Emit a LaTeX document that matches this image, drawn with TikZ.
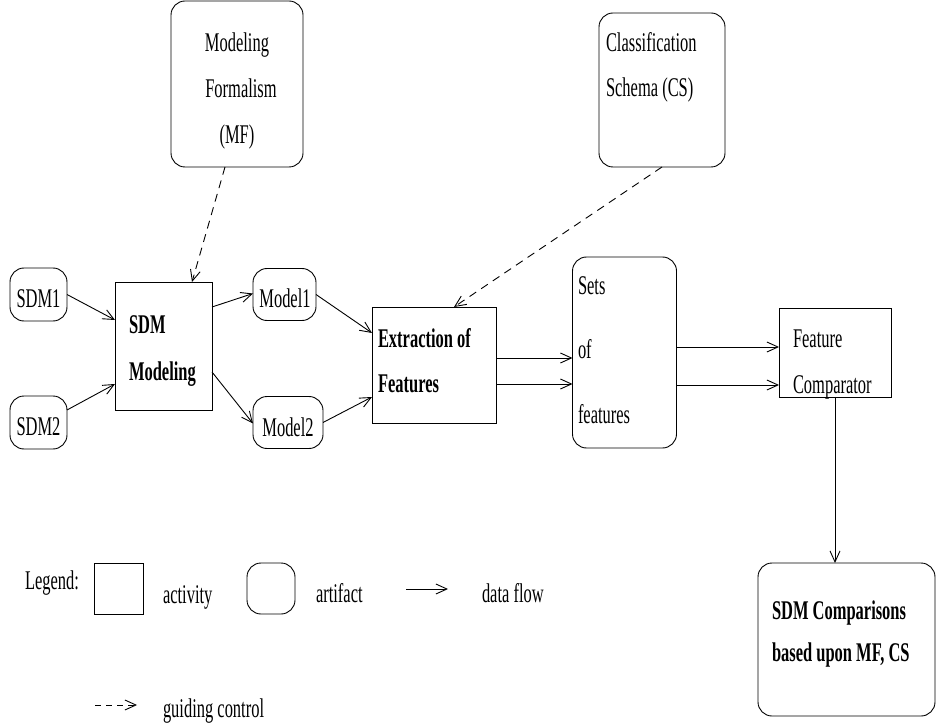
\documentclass[tikz,border=0pt]{standalone}
\usepackage{fontspec}
\setmainfont{Liberation Serif}[FakeStretch=0.61]
\usetikzlibrary{arrows.meta,calc}
\tikzset{
  act/.style={draw, rectangle, inner sep=0pt, outer sep=0pt},
  art/.style={draw, rectangle, rounded corners=14pt, inner sep=0pt, outer sep=0pt},
  lbl/.style={anchor=base west, inner sep=0pt, outer sep=0pt},
  clbl/.style={anchor=base, inner sep=0pt, outer sep=0pt},
  flow/.style={-{Straight Barb[length=11pt,width=10pt]}},
  guide/.style={-{Straight Barb[length=11pt,width=10pt]}, dash pattern=on 8pt off 6pt},
}
\begin{document}
\begin{tikzpicture}[x=1pt, y=-1pt, line width=0.9pt,
  font=\fontsize{27}{32}\selectfont]
\useasboundingbox (0,0) rectangle (937,727);
% boxes
\node[art, minimum width=132pt, minimum height=166pt] (mf) at (237,84) {};
\node[art, minimum width=126pt, minimum height=154pt] (cs) at (662,90) {};
\node[art, minimum width=57pt, minimum height=53pt] (sdm1) at (38.5,294.5) {};
\node[art, minimum width=57pt, minimum height=53pt] (sdm2) at (38.5,422.5) {};
\node[act, minimum width=97pt, minimum height=128pt] (sdmmod) at (163.5,346) {};
\node[art, minimum width=63pt, minimum height=52pt] (model1) at (284.5,294.5) {};
\node[art, minimum width=70pt, minimum height=52pt] (model2) at (288,422.5) {};
\node[act, minimum width=124pt, minimum height=116pt] (extr) at (434,365) {};
\node[art, minimum width=104pt, minimum height=191pt] (sets) at (624.5,352.5) {};
\node[act, minimum width=112pt, minimum height=89pt] (fc) at (835,352.5) {};
\node[art, minimum width=177pt, minimum height=153pt] (comp) at (846.5,639.5) {};
% texts
\node[clbl] (mft1) at (237,52) {Modeling};
\node[clbl] (mft2) at (241,98) {Formalism};
\node[clbl] (mft3) at (237,144) {(MF)};
\node[lbl] (cst1) at (606,52) {Classification};
\node[lbl] (cst2) at (606,97) {Schema (CS)};
\node[clbl] (sdm1t) at (38.5,308) {SDM1};
\node[clbl] (sdm2t) at (38.5,435) {SDM2};
\node[lbl] (sdmt1) at (129,334) {\bfseries SDM};
\node[lbl] (sdmt2) at (129,380) {\bfseries Modeling};
\node[clbl] (m1t) at (285,308) {Model1};
\node[clbl] (m2t) at (288,436) {Model2};
\node[lbl] (ext1) at (378,347) {\bfseries Extraction of};
\node[lbl] (ext2) at (378,392) {\bfseries Features};
\node[lbl] (sett1) at (578,295) {Sets};
\node[lbl] (sett2) at (578,359) {of};
\node[lbl] (sett3) at (578,423) {features};
\node[lbl] (fct1) at (793,347) {Feature};
\node[lbl] (fct2) at (793,393) {Comparator};
\node[lbl] (compt1) at (772,619) {\bfseries SDM Comparisons};
\node[lbl] (compt2) at (772,661) {\bfseries based upon MF, CS};
% data flow
\draw[flow] (sdm1.east) -- ($(sdmmod.north west)+(0,38)$);
\draw[flow] ($(sdm2.north east)+(0,14)$) -- ($(sdmmod.north west)+(0,102)$);
\draw[flow] ($(sdmmod.north east)+(0,25)$) -- ($(model1.north west)+(0,25)$);
\draw[flow] ($(sdmmod.north east)+(0,90)$) -- ($(model2.north west)+(0,27)$);
\draw[flow] (model1.east) -- ($(extr.north west)+(0,26)$);
\draw[flow] (model2.east) -- ($(extr.north west)+(0,90)$);
\draw[flow] ($(extr.north east)+(0,51)$) -- ($(sets.north west)+(0,101)$);
\draw[flow] ($(extr.north east)+(0,77)$) -- ($(sets.north west)+(0,127)$);
\draw[flow] ($(sets.north east)+(0,90)$) -- ($(fc.north west)+(0,39)$);
\draw[flow] ($(sets.north east)+(0,128)$) -- ($(fc.north west)+(0,77)$);
\draw[flow] (fc.south) -- (fc.south |- comp.north);
% guiding control
\draw[guide] ($(mf.south)+(-12,0)$) -- ($(sdmmod.north)+(28.5,0)$);
\draw[guide] ($(cs.south)+(0,0)$) -- ($(extr.north)+(20,0)$);
% legend
\node[lbl] (leg) at (25,589) {Legend:};
\node[act, minimum width=49pt, minimum height=51pt] (legact) at (118.5,588.5) {};
\node[lbl] (legactt) at (163,603) {activity};
\node[art, minimum width=48pt, minimum height=51pt] (legart) at (271,588.5) {};
\node[lbl] (legartt) at (316,602) {artifact};
\coordinate (lfa) at (406,589);
\coordinate (lfb) at (448,589);
\draw[flow] (lfa) -- (lfb);
\node[lbl] (legflow) at (482,602) {data flow};
\coordinate (lga) at (95,705);
\coordinate (lgb) at (137,705);
\draw[-{Straight Barb[length=11pt,width=10pt]}, dash pattern=on 6pt off 5pt] (lga) -- (lgb);
\node[lbl] (legguide) at (163,717) {guiding control};
\end{tikzpicture}
\end{document}
